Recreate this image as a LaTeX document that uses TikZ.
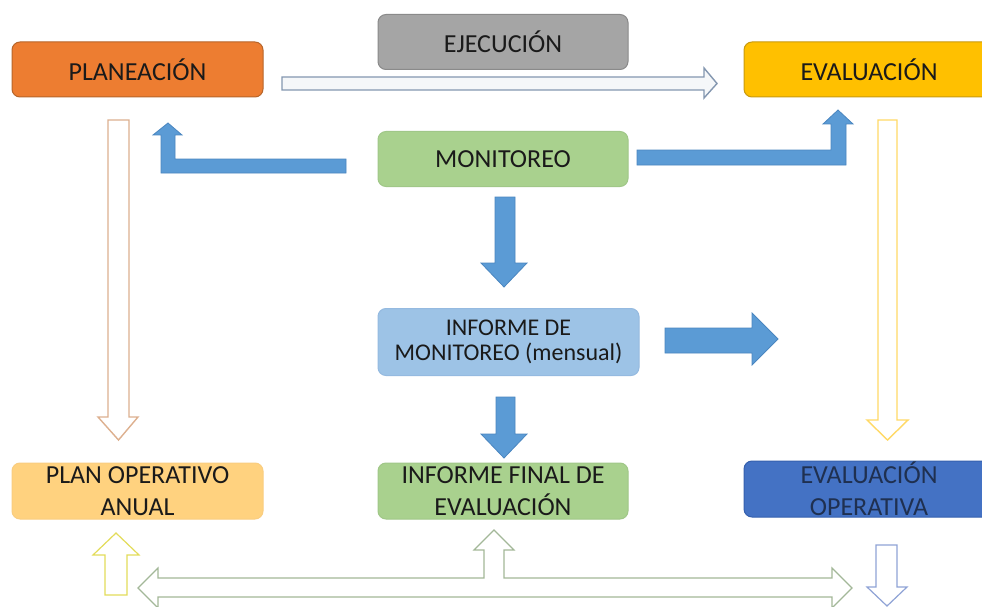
\documentclass[tikz,border=0pt]{standalone}
\usepackage{fontspec}
\setmainfont{Carlito}
\definecolor{txt}{HTML}{1A1A1A}
\definecolor{txtB}{HTML}{1F3050}
\definecolor{orangeF}{HTML}{ED7D31}
\definecolor{orangeD}{HTML}{B7652A}
\definecolor{grayF}{HTML}{A5A5A5}
\definecolor{grayD}{HTML}{8A8A8A}
\definecolor{goldF}{HTML}{FFC000}
\definecolor{goldD}{HTML}{C89A10}
\definecolor{greenF}{HTML}{A9D18E}
\definecolor{greenD}{HTML}{A0C788}
\definecolor{lblueF}{HTML}{9DC3E6}
\definecolor{lblueD}{HTML}{95BAE0}
\definecolor{peachF}{HTML}{FFD27F}
\definecolor{peachD}{HTML}{F9CD80}
\definecolor{blueF}{HTML}{4472C4}
\definecolor{blueD}{HTML}{3560AE}
\definecolor{arrB}{HTML}{5B9BD5}
\definecolor{arrBD}{HTML}{4A86C0}
\definecolor{hEje}{HTML}{8497B0}
\definecolor{hOra}{HTML}{DDB08F}
\definecolor{hYel}{HTML}{FFD966}
\definecolor{hYel2}{HTML}{E3DC5A}
\definecolor{hGrn}{HTML}{A3B898}
\definecolor{hBlu}{HTML}{8FA3D6}
\begin{document}
\begin{tikzpicture}[x=1pt,y=-1pt,
  box/.style={rounded corners=8pt, draw, line width=1pt, align=center,
    inner sep=0pt, minimum height=55, text=txt,
    font=\fontsize{26}{32}\selectfont},
  blk/.style={fill=arrB, draw=arrBD, line width=0.8pt, line join=miter},
  hollow/.style={fill=white, line width=1.4pt, line join=miter}]
\clip (0,0) rectangle (982,607);
\fill[white] (0,0) rectangle (982,607);

% boxes
\node[box, fill=orangeF, draw=orangeD, minimum width=251] (plan) at (137.5,69.5) {PLANEACIÓN};
\node[box, fill=grayF, draw=grayD, minimum width=250] (ejec) at (503,42) {EJECUCIÓN};
\node[box, fill=goldF, draw=goldD, minimum width=250] (eval) at (869,69.5) {EVALUACIÓN};
\node[box, fill=greenF, draw=greenD, minimum width=250] (moni) at (503,159) {MONITOREO};
\node[box, fill=lblueF, draw=lblueD, minimum width=261, minimum height=67,
  font=\fontsize{24}{25}\selectfont] (infm) at (508.5,342) {INFORME DE\\MONITOREO (mensual)};
\node[box, fill=peachF, draw=peachD, minimum width=251, minimum height=56] (poa) at (137.5,491) {PLAN OPERATIVO\\ANUAL};
\node[box, fill=greenF, draw=greenD, minimum width=250, minimum height=56] (inff) at (503,491) {INFORME FINAL DE\\EVALUACIÓN};
\node[box, fill=blueF, draw=blueD, minimum width=250, minimum height=56, text=txtB] (evop) at (869,489) {EVALUACIÓN\\OPERATIVA};

% hollow arrow planeacion -> evaluacion
\draw[hollow, draw=hEje, fill=hEje!8] (282,77) -- (704,77) -- (704,68) -- (717,83.5) -- (704,98) -- (704,90) -- (282,90) -- cycle;

% left vertical hollow arrow (planeacion -> plan operativo)
\draw[hollow, draw=hOra] (108,120) -- (129,120) -- (129,417) -- (138,417) -- (118.5,440) -- (98,417) -- (108,417) -- cycle;

% right vertical hollow arrow (evaluacion -> evaluacion operativa)
\draw[hollow, draw=hYel] (878,120) -- (897,120) -- (897,420) -- (908,420) -- (887.5,440) -- (867,420) -- (878,420) -- cycle;

% blue bent arrow monitoreo -> planeacion
\draw[blk] (346,159) -- (175,159) -- (175,135) -- (182,135) -- (168,123) -- (153,135) -- (161,135) -- (161,173) -- (346,173) -- cycle;

% blue bent arrow monitoreo -> evaluacion
\draw[blk] (637,150) -- (831,150) -- (831,124) -- (823,124) -- (838,110) -- (853,124) -- (846,124) -- (846,165) -- (637,165) -- cycle;

% blue down arrow monitoreo -> informe de monitoreo
\draw[blk] (495,197) -- (515,197) -- (515,263) -- (527,263) -- (504,287) -- (481,263) -- (495,263) -- cycle;

% blue right arrow from informe de monitoreo
\draw[blk] (665,328) -- (752,328) -- (752,313) -- (778,339) -- (752,365) -- (752,353) -- (665,353) -- cycle;

% blue down arrow informe de monitoreo -> informe final
\draw[blk] (496,397) -- (515,397) -- (515,434) -- (527,434) -- (504,458) -- (481,434) -- (496,434) -- cycle;

% yellow up arrow to plan operativo
\draw[hollow, draw=hYel2, line width=1.2pt] (105,595) -- (127,595) -- (127,555) -- (139,555) -- (116,533) -- (93,555) -- (105,555) -- cycle;

% green left-right-up arrow
\draw[hollow, draw=hGrn, line width=1.2pt] (138,588) -- (158,568) -- (158,578) -- (484,578) -- (484,550) -- (474,550) -- (494,530) -- (514,550) -- (504,550) -- (504,578) -- (832,578) -- (832,568) -- (852,588) -- (832,608) -- (832,597) -- (158,597) -- (158,608) -- cycle;

% blue-outlined down arrow below evaluacion operativa
\draw[hollow, draw=hBlu, line width=1.2pt] (876,545) -- (897,545) -- (897,587) -- (907,587) -- (887,606) -- (867,587) -- (876,587) -- cycle;
\end{tikzpicture}
\end{document}
